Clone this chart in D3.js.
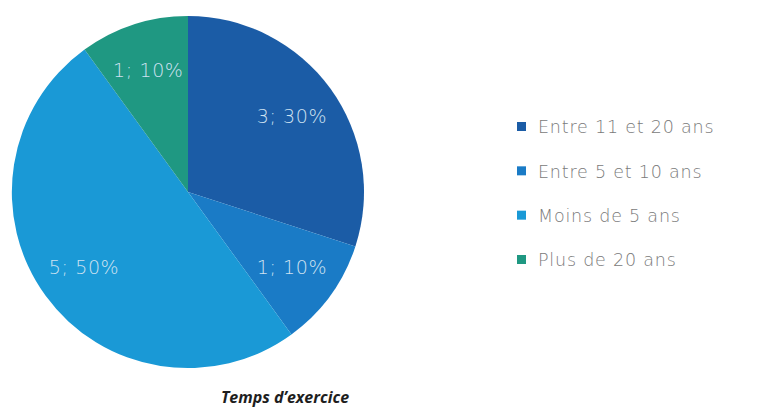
<!DOCTYPE html>
<html><head><meta charset="utf-8">
<script src="https://cdn.jsdelivr.net/npm/d3@7"></script>
<style>body{margin:0;background:#fff;} svg{display:block;}</style>
</head><body>
<svg id="chart" width="760" height="412"></svg>
<script>
const categories = ["Entre 11 et 20 ans", "Entre 5 et 10 ans", "Moins de 5 ans", "Plus de 20 ans"];
const counts = [3, 1, 5, 1];
const percents = [30, 10, 50, 10];
const colors = ["#1b5ca6", "#1a7bc6", "#1a99d6", "#1f9882"];
const title = "Temps d\u2019exercice";

const svg = d3.select("#chart");
const cx = 188, cy = 192, R = 176;
const data = categories.map((c, i) => ({cat: c, n: counts[i], p: percents[i], col: colors[i]}));
const pie = d3.pie().value(d => d.n).sort(null);
const arc = d3.arc().innerRadius(0).outerRadius(R);
const labelArc = d3.arc().innerRadius(R * 0.73).outerRadius(R * 0.73);
const g = svg.append("g").attr("transform", `translate(${cx},${cy})`);
const arcs = pie(data);
g.selectAll("path").data(arcs).enter().append("path")
  .attr("d", arc).attr("fill", d => d.data.col);
g.selectAll("text").data(arcs).enter().append("text")
  .attr("transform", d => `translate(${labelArc.centroid(d)})`)
  .attr("text-anchor", "middle").attr("dy", "0.36em")
  .attr("font-family", "'DejaVu Sans', sans-serif").attr("font-weight", 200)
  .attr("font-size", 19).attr("letter-spacing", 0.6).attr("fill", "#cfe2f1")
  .text(d => `${d.data.n}; ${d.data.p}%`);

const lg = svg.append("g").attr("transform", "translate(517,127)");
const y = d3.scalePoint().domain(categories).range([0, 133]);
const items = lg.selectAll("g").data(data).enter().append("g")
  .attr("transform", d => `translate(0,${y(d.cat)})`);
items.append("rect").attr("x", 0).attr("y", -5).attr("width", 9).attr("height", 9).attr("fill", d => d.col);
items.append("text").attr("x", 21).attr("dy", "0.36em")
  .attr("font-family", "'DejaVu Sans', sans-serif").attr("font-weight", 200)
  .attr("font-size", 17.5).attr("letter-spacing", 0.8).attr("fill", "#7a7a7a").text(d => d.cat);

svg.append("text").attr("x", 285).attr("y", 403).attr("text-anchor", "middle")
  .attr("font-family", "'Open Sans', Lato, sans-serif").attr("font-weight", 700)
  .attr("font-style", "italic").attr("font-size", 16).attr("fill", "#1e1e1e").text(title);
</script>
</body></html>
